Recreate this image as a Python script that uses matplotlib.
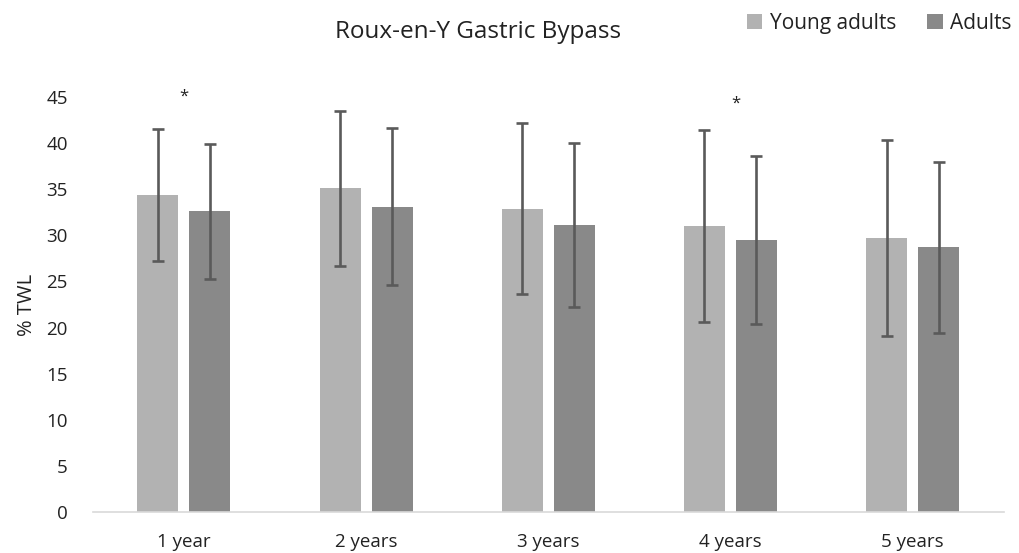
import matplotlib
matplotlib.use("Agg")
import matplotlib.pyplot as plt
import numpy as np

categories = ["1 year", "2 years", "3 years", "4 years", "5 years"]
young_mean = [34.4, 35.1, 32.9, 31.0, 29.7]
young_sd = [7.15, 8.4, 9.3, 10.4, 10.6]
adult_mean = [32.6, 33.1, 31.1, 29.5, 28.7]
adult_sd = [7.3, 8.5, 8.9, 9.1, 9.3]
star_cats = [0, 3]
star_y = [45.0, 44.3]
star_dx = [0.0, 0.03]

plt.rcParams['font.family'] = ['Open Sans', 'DejaVu Sans']

fig = plt.figure(figsize=(10.2, 5.53), dpi=100)
ax = fig.add_axes([0.091, 0.0741, 0.893, 0.7505])

x = np.arange(len(categories))
w = 0.225
off = 0.143
ekw = dict(ecolor="#5a5a5a", elinewidth=1.9, capthick=1.9)
ax.bar(x - off, young_mean, w, color="#b2b2b2", yerr=young_sd, capsize=4.5,
       error_kw=ekw, label="Young adults")
ax.bar(x + off, adult_mean, w, color="#898989", yerr=adult_sd, capsize=4.5,
       error_kw=ekw, label="Adults")

for c, yy, dx in zip(star_cats, star_y, star_dx):
    ax.text(c + dx, yy, "*", ha="center", va="center", fontsize=12, color="#222222")

ax.set_xlim(-0.5, len(categories) - 0.5)
ax.set_ylim(0, 45)
ax.set_yticks(range(0, 46, 5))
ax.set_xticks(x)
ax.set_xticklabels(categories)
ax.tick_params(axis="both", length=0, labelsize=13.5, colors="#222222")
ax.tick_params(axis="x", pad=15)
ax.tick_params(axis="y", pad=18)
for s in ["top", "right", "left"]:
    ax.spines[s].set_visible(False)
ax.spines["bottom"].set_color("#d9d9d9")
ax.spines["bottom"].set_linewidth(1.2)
ax.set_ylabel("% TWL", fontsize=14.5, color="#222222", labelpad=7)

fig.text(0.469, 0.942, "Roux-en-Y Gastric Bypass", ha="center", va="center",
         fontsize=17.5, color="#222222")
fig.legend(loc="center", bbox_to_anchor=(0.862, 0.958), ncol=2, frameon=False,
           fontsize=15, handlelength=0.75, handleheight=0.75, handletextpad=0.35,
           columnspacing=1.5, labelcolor="#222222")

fig.savefig("out.png", dpi=100)
